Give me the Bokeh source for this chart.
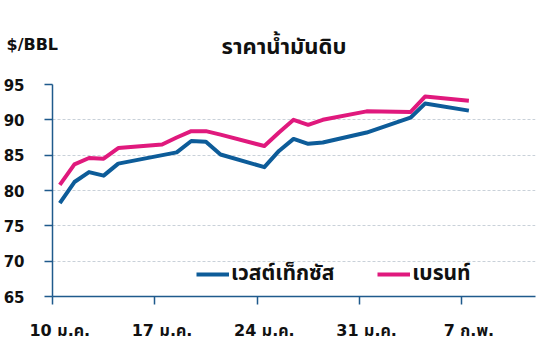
import pandas as pd
from bokeh.plotting import figure
from bokeh.models import (FixedTicker, LinearAxis, Title, Legend, LegendItem, Range1d)
from bokeh.embed import file_html
from bokeh.resources import INLINE

wti_dates = ["2022-01-10", "2022-01-11", "2022-01-12", "2022-01-13", "2022-01-14",
             "2022-01-18", "2022-01-19", "2022-01-20", "2022-01-21", "2022-01-24",
             "2022-01-25", "2022-01-26", "2022-01-27", "2022-01-28", "2022-01-31",
             "2022-02-03", "2022-02-04", "2022-02-07"]
wti = [78.2, 81.2, 82.6, 82.1, 83.8, 85.4, 87.0, 86.9, 85.1, 83.3,
       85.6, 87.3, 86.6, 86.8, 88.2, 90.3, 92.3, 91.3]

brent_dates = ["2022-01-10", "2022-01-11", "2022-01-12", "2022-01-13", "2022-01-14",
               "2022-01-17", "2022-01-18", "2022-01-19", "2022-01-20", "2022-01-21",
               "2022-01-24", "2022-01-25", "2022-01-26", "2022-01-27", "2022-01-28",
               "2022-01-31", "2022-02-03", "2022-02-04", "2022-02-07"]
brent = [80.8, 83.7, 84.6, 84.5, 86.0, 86.5, 87.5, 88.4, 88.4, 87.9,
         86.3, 88.2, 90.0, 89.3, 90.0, 91.2, 91.1, 93.3, 92.7]

tick_labels = ["10 ม.ค.", "17 ม.ค.", "24 ม.ค.", "31 ม.ค.", "7 ก.พ."]
y_ticks = [65, 70, 75, 80, 85, 90, 95]
title_text = "ราคาน้ำมันดิบ"
unit_text = "$/BBL"
series_names = ["เวสต์เท็กซัส", "เบรนท์"]

base = pd.Timestamp("2022-01-10")
wx = [(pd.Timestamp(d) - base).days for d in wti_dates]
bx = [(pd.Timestamp(d) - base).days for d in brent_dates]
label_pos = [0, 7, 14, 21, 28]

BLUE = "#0d5c99"
PINK = "#e0197d"
AXIS = "#1f5a8c"
FONT = "DejaVu Sans, Noto Sans Thai, sans-serif"

p = figure(width=538, height=362, output_backend="svg", toolbar_location=None,
           x_range=Range1d(-0.5, 32.56), y_range=Range1d(65, 95),
           min_border_left=52, min_border_right=3, min_border_top=84,
           min_border_bottom=66, x_axis_type=None, y_axis_location="left")
p.outline_line_color = None
p.xgrid.grid_line_color = None

p.title.text = title_text
p.title.align = "left"
p.title.offset = 169
p.title.standoff = -115
p.title.text_font = FONT
p.title.text_font_style = "bold"
p.title.text_font_size = "22px"
p.title.text_color = "#111111"

unit_title = Title(text=unit_text, align="left", offset=-46, standoff=62,
                   text_font=FONT, text_font_style="bold",
                   text_font_size="16px", text_color="#111111")
p.add_layout(unit_title, "above")

# y axis
p.yaxis.ticker = FixedTicker(ticks=y_ticks)
p.yaxis.minor_tick_line_color = None
p.yaxis.major_tick_out = 8
p.yaxis.major_tick_in = 0
p.yaxis.major_label_standoff = 20
p.yaxis.axis_line_color = AXIS
p.yaxis.axis_line_width = 1.5
p.yaxis.major_tick_line_color = AXIS
p.yaxis.major_tick_line_width = 1.5
p.yaxis.major_label_text_font = FONT
p.yaxis.major_label_text_font_style = "bold"
p.yaxis.major_label_text_font_size = "15px"
p.yaxis.major_label_text_color = "#111111"
p.ygrid.ticker = FixedTicker(ticks=y_ticks)
p.ygrid.grid_line_color = "#c9d1d9"
p.ygrid.grid_line_dash = "3 2"
p.ygrid.grid_line_width = 1

# x axis with tick marks (between dates)
xa = LinearAxis(ticker=FixedTicker(ticks=[v - 0.5 for v in label_pos]))
xa.major_label_overrides = {v - 0.5: "" for v in label_pos}
xa.major_label_text_font_size = "1px"
xa.major_label_standoff = 0
xa.minor_tick_line_color = None
xa.major_tick_out = 8
xa.major_tick_in = 0
xa.axis_line_color = AXIS
xa.axis_line_width = 1.5
xa.major_tick_line_color = AXIS
xa.major_tick_line_width = 1.5
p.add_layout(xa, "below")

# x axis with labels (centred on dates)
xl = LinearAxis(ticker=FixedTicker(ticks=label_pos))
xl.major_label_overrides = {v: t for v, t in zip(label_pos, tick_labels)}
xl.axis_line_color = None
xl.major_tick_line_color = None
xl.minor_tick_line_color = None
xl.major_tick_out = 0
xl.major_tick_in = 0
xl.major_label_standoff = 16
xl.major_label_text_font = FONT
xl.major_label_text_font_style = "bold"
xl.major_label_text_font_size = "16px"
xl.major_label_text_color = "#111111"
p.add_layout(xl, "below")

r1 = p.line(wx, wti, line_color=BLUE, line_width=4, line_join="round")
r2 = p.line(bx, brent, line_color=PINK, line_width=4, line_join="round")

legend = Legend(items=[LegendItem(label=series_names[0], renderers=[r1]),
                       LegendItem(label=series_names[1], renderers=[r2])],
                orientation="horizontal", location=(144, 7),
                glyph_width=33, glyph_height=20, label_height=20,
                label_standoff=2, spacing=43, padding=0, margin=0,
                border_line_color=None, background_fill_alpha=0,
                label_text_font=FONT, label_text_font_style="bold",
                label_text_font_size="21px", label_text_color="#111111")
p.add_layout(legend, "center")

open("out.html", "w").write(file_html(p, INLINE))
